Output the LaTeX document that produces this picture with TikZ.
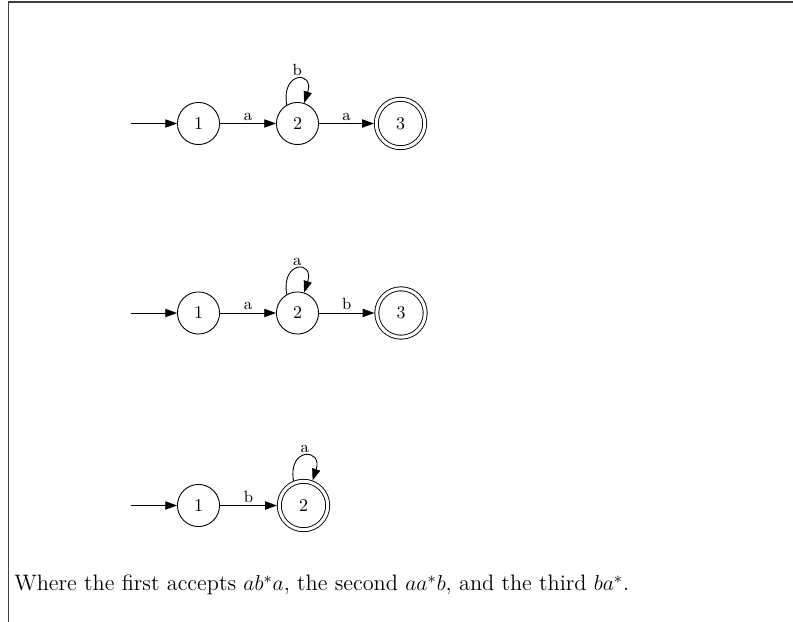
\documentclass[tikz,border=0pt]{standalone}
\usetikzlibrary{arrows.meta}
\begin{document}
\begin{tikzpicture}[x=0.5556pt,y=-0.5556pt,
    state/.style={draw,circle,line width=0.5pt,minimum size=23.4pt,inner sep=0pt},
    final/.style={state,double,double distance=1.7pt,minimum size=26.9pt,outer sep=1.35pt},
    edge/.style={line width=0.5pt,-{Triangle[length=6.5pt,width=4.6pt]}},
    lab/.style={font=\small,inner sep=1.5pt}]
    \useasboundingbox (0,0) rectangle (793,622);

    \draw[black!75, line width=0.6pt] (8.5,622) -- (8.5,2) -- (793,2);

    \coordinate (s1) at (131,123.5);
    \node (a1) at (198.5,123.5) [state]{1};
    \node (a2) at (297.5,123.5) [state]{2};
    \node (a3) at (400.5,123.5) [final]{3};

    \coordinate (s2) at (131,313);
    \node (b1) at (198.5,313) [state]{1};
    \node (b2) at (297.5,313) [state]{2};
    \node (b3) at (401,313) [final]{3};

    \coordinate (s3) at (131,505.5);
    \node (c1) at (198.5,505.5) [state]{1};
    \node (c2) at (303.5,505.5) [final]{2};

     \draw[edge] (s1) -- (a1);
     \draw[edge] (a1) -- node[lab,above]{a} (a2);
     \draw[edge] (a2) -- node[lab,above]{a} (a3);
     \draw[edge] (a2.120) to[out=100,in=72,distance=19pt] node[lab,above]{b} (a2.72);

     \draw[edge] (s2) -- (b1);
     \draw[edge] (b1) -- node[lab,above]{a} (b2);
     \draw[edge] (b2) -- node[lab,above]{b} (b3);
     \draw[edge] (b2.120) to[out=100,in=72,distance=19pt] node[lab,above]{a} (b2.72);

     \draw[edge] (s3) -- (c1);
     \draw[edge] (c1) -- node[lab,above]{b} (c2);
     \draw[edge] (c2.112) to[out=100,in=72,distance=19pt] node[lab,above]{a} (c2.70);

     \node (text) at (14,591) [anchor=base west,inner sep=0pt,font=\fontsize{12.4}{15}\selectfont]{Where the first accepts $ab^*a$, the second $aa^*b$, and the third $ba^*$.};
  \end{tikzpicture}
\end{document}
